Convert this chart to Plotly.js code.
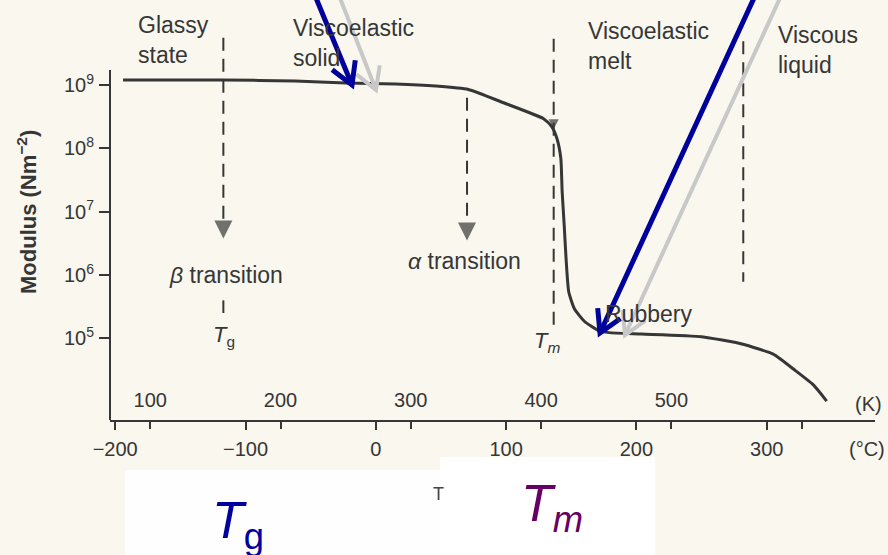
<!DOCTYPE html>
<html>
<head>
<meta charset="utf-8">
<script src="https://cdn.plot.ly/plotly-3.0.1.min.js"></script>
<style>
  html, body { margin: 0; padding: 0; background: #f9f7ee; }
  #chart { width: 888px; height: 555px; }
</style>
</head>
<body>
<div id="chart"></div>
<script>
// Modulus–temperature curve of a semicrystalline polymer
const tempC = [-194, -117, -62, -23, 15, 46, 71, 98, 129, 135, 139, 142, 143,
               144.6, 146, 148, 152.3, 160, 171, 179, 204, 250, 281, 305, 322, 336, 346];
const modulus = [1.20e9, 1.20e9, 1.16e9, 1.08e9, 1.04e9, 9.64e8, 8.51e8, 5.25e8, 2.92e8,
                 2.20e8, 1.43e8, 6.92e7, 2.09e7, 6.03e6, 1.82e6, 5.50e5, 2.95e5, 1.86e5,
                 1.32e5, 1.23e5, 1.17e5, 1.06e5, 8.13e4, 5.62e4, 3.09e4, 1.82e4, 1.02e4];

// Axis ticks: Celsius below the axis, Kelvin above it, log modulus on the left
const celsiusTicks = [-200, -100, 0, 100, 200, 300];
const celsiusLabels = ['−200', '−100', '0', '100', '200', '300'];
const kelvinTicks = [100, 200, 300, 400, 500, 600];
const kelvinLabels = ['100', '200', '300', '400', '500', ''];
const modulusTicks = [1e4, 1e5, 1e6, 1e7, 1e8, 1e9];
const modulusLabels = ['', '10<sup>5</sup>', '10<sup>6</sup>', '10<sup>7</sup>', '10<sup>8</sup>', '10<sup>9</sup>'];

// Transition markers (β, α, melting, viscous flow): temperature and dashed extent
const transitionTemps = [-117, 70, 136.5, 282];
const dashTop = [5.6e9, 6.3e8, 5.4e9, 4.9e9];
const dashBottom = [7.2e6, 7.2e6, 1.6e5, 7.8e5];
const betaStub = [3.98e5, 2.51e5];
const arrowTips = [3.76e6, 3.51e6, 2.0e8];

const INK = '#363636';
const FONT = 'Liberation Sans, Arial, Helvetica, sans-serif';

// plot box in pixels
const W = 888, H = 555, L = 110, R = 875, T = 25, B = 420;
const px = v => (v - L) / (R - L);
const py = v => (B - v) / (B - T);

// dashed transition lines
const dashX = [], dashY = [];
transitionTemps.forEach((t, i) => {
  dashX.push(t, t, null);
  dashY.push(dashTop[i], dashBottom[i], null);
});
dashX.push(transitionTemps[0], transitionTemps[0]);
dashY.push(betaStub[0], betaStub[1]);

const traces = [
  {
    x: tempC, y: modulus, mode: 'lines', xaxis: 'x', yaxis: 'y',
    line: { color: INK, width: 3, shape: 'spline', smoothing: 0.5 },
    hoverinfo: 'x+y'
  },
  {
    x: dashX, y: dashY, mode: 'lines', xaxis: 'x2', yaxis: 'y',
    line: { color: INK, width: 2, dash: '13px,8px' },
    hoverinfo: 'skip'
  },
  {
    x: transitionTemps.slice(0, 3), y: arrowTips, mode: 'markers', xaxis: 'x2', yaxis: 'y',
    marker: { symbol: 'arrow-down', size: [18, 18, 10], color: INK, line: { width: 0 } },
    hoverinfo: 'skip'
  }
];

// slide pointers (open V arrowheads) drawn in page pixels
function pointer(x0, y0, x1, y1, color, width) {
  const dx = x1 - x0, dy = y1 - y0, len = Math.hypot(dx, dy);
  const bx = -dx / len, by = -dy / len, a = Math.PI / 6, hl = 25;
  const arm = s => [x1 + hl * (bx * Math.cos(s * a) - by * Math.sin(s * a)),
                    y1 + hl * (bx * Math.sin(s * a) + by * Math.cos(s * a))];
  const [ax1, ay1] = arm(1), [ax2, ay2] = arm(-1);
  const line = { color: color, width: width };
  return [
    { type: 'line', xref: 'paper', yref: 'paper', x0: px(x0), y0: py(y0), x1: px(x1), y1: py(y1), line: line, layer: 'above' },
    { type: 'path', xref: 'paper', yref: 'paper', layer: 'above', line: line,
      path: `M${px(ax1)},${py(ay1)} L${px(x1)},${py(y1)} L${px(ax2)},${py(ay2)}` }
  ];
}

const shapes = [
  // y axis line
  { type: 'line', xref: 'paper', yref: 'paper', x0: 0, x1: 0, y0: 0, y1: py(70), line: { color: INK, width: 2 } },
  // white caption panels
  { type: 'rect', xref: 'paper', yref: 'paper', x0: px(125), x1: px(440), y0: py(470), y1: py(560),
    fillcolor: '#fefefe', line: { width: 0 }, layer: 'above' },
  { type: 'rect', xref: 'paper', yref: 'paper', x0: px(440), x1: px(655), y0: py(457), y1: py(560),
    fillcolor: '#ffffff', line: { width: 0 }, layer: 'above' },
  ...pointer(340, -2, 376, 90, '#c8c8c8', 4),
  ...pointer(316, -2, 352, 85, '#00009c', 5),
  ...pointer(780, -2, 625, 335, '#c8c8c8', 4),
  ...pointer(754, -2, 600, 333, '#00009c', 5)
];

const txt = (text, x, y, extra) => Object.assign({
  text: text, x: x, y: y, xref: 'x', yref: 'y', showarrow: false,
  font: { family: FONT, size: 23, color: INK }, xanchor: 'left', yanchor: 'middle', align: 'left'
}, extra || {});

const annotations = [
  txt('Glassy<br>state', -184, 9.706),
  txt('Viscoelastic<br>solid', -65, 9.67),
  txt('Viscoelastic<br>melt', 161.5, 9.61),
  txt('Viscous<br>liquid', 307, 9.56),
  txt('<i>β</i> transition', -160, 6.0),
  txt('<i>α</i> transition', 23, 6.225),
  txt('<i>T</i><sub>g</sub>', -116.8, 5.04, { xanchor: 'center', font: { family: FONT, size: 22, color: INK } }),
  txt('<i>T<sub>m</sub></i>', 131.5, 4.94, { xanchor: 'center', font: { family: FONT, size: 22, color: INK } }),
  txt('Rubbery', 174, 5.39),
  txt('(K)', px(868), py(404), { xref: 'paper', yref: 'paper', xanchor: 'center', font: { family: FONT, size: 20, color: INK } }),
  txt('(°C)', px(867), py(449), { xref: 'paper', yref: 'paper', xanchor: 'center', font: { family: FONT, size: 20, color: INK } }),
  txt('<b>Modulus (Nm<sup>−2</sup>)</b>', px(27), py(212), { xref: 'paper', yref: 'paper', xanchor: 'center', textangle: -90,
      font: { family: FONT, size: 22, color: INK } }),
  txt('T', px(438), py(494), { xref: 'paper', yref: 'paper', xanchor: 'center', font: { family: FONT, size: 18, color: '#444' } }),
  txt('<i>T</i><sub>g</sub>', px(210), py(524), { xref: 'paper', yref: 'paper',
      font: { family: FONT, size: 52, color: '#0000a0' } }),
  txt('<i>T<sub>m</sub></i>', px(519), py(507), { xref: 'paper', yref: 'paper',
      font: { family: FONT, size: 52, color: '#660066' } })
];

const xRange = [-204, 383.1];
const layout = {
  width: W, height: H,
  margin: { l: L, r: W - R, t: T, b: H - B, pad: 0 },
  paper_bgcolor: '#f9f7ee',
  plot_bgcolor: 'rgba(0,0,0,0)',
  showlegend: false,
  font: { family: FONT, color: INK, size: 20 },
  xaxis: {
    range: xRange, tickmode: 'array', tickvals: celsiusTicks, ticktext: celsiusLabels,
    ticks: 'outside', ticklen: 8, tickwidth: 2, tickcolor: INK, ticklabelstandoff: 2,
    showline: true, linewidth: 2, linecolor: INK, showgrid: false, zeroline: false,
    tickfont: { size: 20, color: INK }
  },
  xaxis2: {
    overlaying: 'x', anchor: 'y', side: 'bottom', range: xRange,
    tickmode: 'array', tickvals: kelvinTicks.map(k => k - 273.15), ticktext: kelvinLabels,
    ticks: 'outside', ticklen: 8, tickwidth: 2, tickcolor: INK,
    ticklabelposition: 'inside', ticklabelstandoff: 6,
    showline: false, showgrid: false, zeroline: false,
    tickfont: { size: 20, color: INK }
  },
  yaxis: {
    type: 'log', range: [3.71, 9.948], tickmode: 'array', tickvals: modulusTicks, ticktext: modulusLabels,
    ticks: 'outside', ticklen: 10, tickwidth: 2, tickcolor: INK, ticklabelstandoff: 1,
    showline: false, showgrid: false, zeroline: false,
    tickfont: { size: 20, color: INK }
  },
  shapes: shapes,
  annotations: annotations
};

Plotly.newPlot('chart', traces, layout, { displayModeBar: false, staticPlot: true });
</script>
</body>
</html>
